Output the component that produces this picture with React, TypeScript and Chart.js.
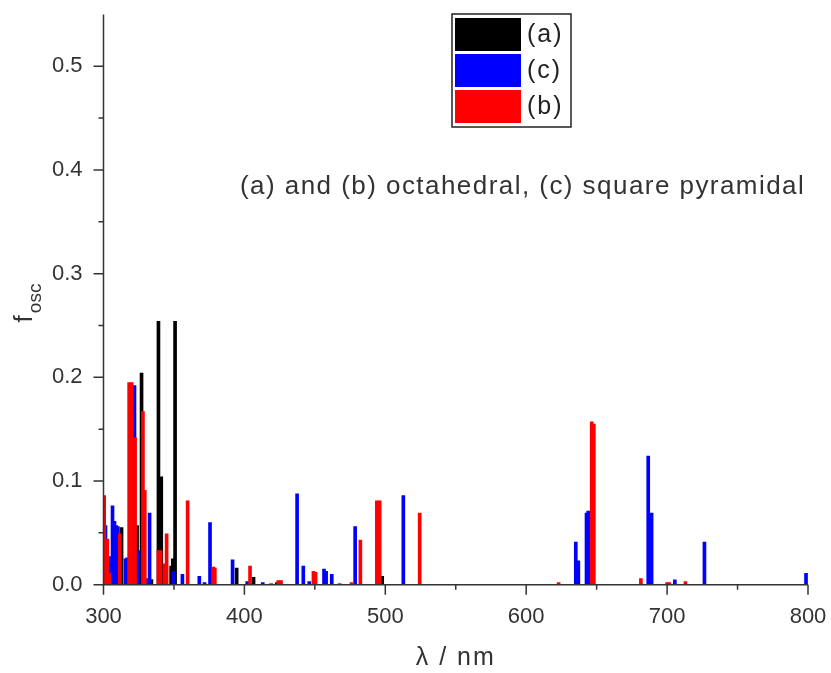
import React, { useEffect, useRef } from "react";
import { Chart, registerables } from "chart.js";
Chart.register(...registerables);

// (a) octahedral – black
const wavelengthA = [312.8, 323.8, 327, 334, 339, 341, 343.3, 348, 349.2, 350.8, 394.5, 406.5, 423, 497.8];
const foscA = [0.055, 0.057, 0.204, 0.005, 0.254, 0.104, 0.02, 0.018, 0.025, 0.254, 0.016, 0.007, 0.002, 0.008];

// (c) square pyramidal – blue
const wavelengthC = [301.4, 304.3, 306.4, 307.8, 309, 310.2, 315.6, 316.8, 322, 324.8, 330.9, 332.7, 349.5, 356, 368, 371.7, 375.6, 391.6, 402, 413, 437.4, 441.8, 446, 456.5, 458, 462, 478.6, 512.8, 635.2, 637, 642.8, 644, 686.6, 689, 705.5, 726.5, 798.6];
const foscC = [0.057, 0.027, 0.076, 0.061, 0.057, 0.056, 0.025, 0.026, 0.192, 0.033, 0.006, 0.069, 0.013, 0.01, 0.008, 0.002, 0.06, 0.024, 0.003, 0.002, 0.0877, 0.018, 0.003, 0.015, 0.013, 0.01, 0.056, 0.086, 0.041, 0.023, 0.069, 0.071, 0.124, 0.069, 0.0046, 0.041, 0.011];

// (b) octahedral – red
const wavelengthB = [300.5, 302.7, 304.3, 311.6, 318.2, 320, 322.4, 328, 329.3, 339, 340.5, 343.5, 344.8, 359.7, 378, 379, 404, 419, 424, 426, 449, 450.5, 467.6, 476, 482.3, 494, 496, 524.4, 623, 646.5, 648, 681.4, 700, 701.5, 713];
const foscB = [0.086, 0.044, 0.011, 0.049, 0.195, 0.195, 0.142, 0.167, 0.091, 0.033, 0.033, 0.02, 0.049, 0.081, 0.017, 0.016, 0.018, 0.001, 0.004, 0.004, 0.013, 0.012, 0.001, 0.002, 0.043, 0.081, 0.081, 0.069, 0.002, 0.157, 0.155, 0.006, 0.002, 0.002, 0.003];

const xTickLabels = [300, 400, 500, 600, 700, 800];
const yTickLabels = [0.0, 0.1, 0.2, 0.3, 0.4, 0.5];
const xMinorTicks = [350, 450, 550, 650, 750];
const yMinorTicks = [0.05, 0.15, 0.25, 0.35, 0.45];

const legendLabels = ["(a)", "(c)", "(b)"];
const legendColors = ["#000000", "#0000ff", "#ff0000"];
const noteText = "(a) and (b) octahedral, (c) square pyramidal";

const FONT = "'Liberation Sans', Arial, sans-serif";
const AXIS_COLOR = "#333333";

const toPoints = (xs: number[], ys: number[]) => xs.map((x, i) => ({ x, y: ys[i] }));

const zeroPad = (s: any) => {
  s.paddingTop = 0;
  s.paddingBottom = 0;
  s.paddingLeft = 0;
  s.paddingRight = 0;
};

const decorPlugin = {
  id: "decor",
  afterDraw(chart: any) {
    const ctx = chart.ctx as CanvasRenderingContext2D;
    const { left, right, top, bottom } = chart.chartArea;
    const xs = chart.scales.x;
    const ys = chart.scales.y;
    ctx.save();
    ctx.strokeStyle = AXIS_COLOR;
    ctx.lineWidth = 1.5;
    ctx.beginPath();
    ctx.moveTo(left, top);
    ctx.lineTo(left, bottom);
    ctx.lineTo(right, bottom);
    ctx.stroke();
    ctx.beginPath();
    xTickLabels.forEach((v) => {
      const px = xs.getPixelForValue(v);
      ctx.moveTo(px, bottom);
      ctx.lineTo(px, bottom + 10);
    });
    xMinorTicks.forEach((v) => {
      const px = xs.getPixelForValue(v);
      ctx.moveTo(px, bottom);
      ctx.lineTo(px, bottom + 5);
    });
    yTickLabels.forEach((v) => {
      const py = ys.getPixelForValue(v);
      ctx.moveTo(left, py);
      ctx.lineTo(left - 10, py);
    });
    yMinorTicks.forEach((v) => {
      const py = ys.getPixelForValue(v);
      ctx.moveTo(left, py);
      ctx.lineTo(left - 5, py);
    });
    ctx.stroke();

    // axis titles
    ctx.fillStyle = AXIS_COLOR;
    ctx.textBaseline = "middle";
    ctx.textAlign = "center";
    ctx.font = `25px ${FONT}`;
    (ctx as any).letterSpacing = "2px";
    ctx.fillText("λ / nm", (left + right) / 2, 658);
    (ctx as any).letterSpacing = "0px";

    ctx.save();
    ctx.translate(32, 303);
    ctx.rotate(-Math.PI / 2);
    ctx.textAlign = "left";
    ctx.textBaseline = "alphabetic";
    ctx.font = `26px ${FONT}`;
    const fW = ctx.measureText("f").width;
    ctx.font = `19px ${FONT}`;
    const oW = ctx.measureText("osc").width;
    const total = fW + oW + 2;
    ctx.font = `26px ${FONT}`;
    ctx.fillText("f", -total / 2, 0);
    ctx.font = `19px ${FONT}`;
    ctx.fillText("osc", -total / 2 + fW + 2, 9);
    ctx.restore();

    // annotation
    ctx.textAlign = "left";
    ctx.textBaseline = "middle";
    ctx.font = `26px ${FONT}`;
    (ctx as any).letterSpacing = "1.45px";
    ctx.fillText(noteText, 240, 187);

    // legend
    ctx.lineWidth = 1.5;
    ctx.strokeStyle = "#222";
    ctx.strokeRect(452, 14, 119, 113);
    const rows = [18, 54, 90];
    (ctx as any).letterSpacing = "2px";
    legendLabels.forEach((lab, i) => {
      ctx.fillStyle = legendColors[i];
      ctx.fillRect(455, rows[i], 66, 33);
      ctx.fillStyle = "#222";
      ctx.font = `25px ${FONT}`;
      ctx.textAlign = "left";
      ctx.textBaseline = "middle";
      ctx.fillText(lab, 527, rows[i] + 17);
    });
    (ctx as any).letterSpacing = "0px";
    ctx.restore();
  },
};

export default function App() {
  const canvasRef = useRef<HTMLCanvasElement | null>(null);
  useEffect(() => {
    if (!canvasRef.current) return;
    const ds = (label: string, xs: number[], ys: number[], color: string, order: number) => ({
      label,
      data: toPoints(xs, ys),
      backgroundColor: color,
      borderWidth: 0,
      barThickness: 3,
      grouped: false,
      order,
    });
    const chart = new Chart(canvasRef.current, {
      type: "bar",
      data: {
        datasets: [
          ds("(a)", wavelengthA, foscA, "#000000", 2),
          ds("(c)", wavelengthC, foscC, "#0000ff", 1),
          ds("(b)", wavelengthB, foscB, "#ff0000", 0),
        ] as any,
      },
      options: {
        responsive: false,
        animation: false,
        devicePixelRatio: 1,
        layout: { padding: { left: 0, right: 23, top: 14.4, bottom: 0 } },
        plugins: { legend: { display: false }, tooltip: { enabled: false } },
        scales: {
          x: {
            type: "linear",
            min: 300,
            max: 800,
            offset: false,
            grid: { display: false, drawTicks: false },
            border: { display: false },
            afterBuildTicks: (s: any) => {
              s.ticks = xTickLabels.map((v) => ({ value: v }));
            },
            afterFit: (s: any) => {
              s.height = 673 - 584.7;
              zeroPad(s);
            },
            ticks: {
              padding: 19,
              color: AXIS_COLOR,
              font: { family: FONT, size: 22 },
              maxRotation: 0,
              callback: (v: any) => String(v),
            },
          },
          y: {
            type: "linear",
            min: 0,
            max: 0.55,
            grid: { display: false, drawTicks: false },
            border: { display: false },
            afterBuildTicks: (s: any) => {
              s.ticks = yTickLabels.map((v) => ({ value: v }));
            },
            afterFit: (s: any) => {
              s.width = 103.5;
              zeroPad(s);
            },
            ticks: {
              padding: 21,
              color: AXIS_COLOR,
              font: { family: FONT, size: 22 },
              callback: (v: any) => Number(v).toFixed(1),
            },
          },
        },
      } as any,
      plugins: [decorPlugin],
    });
    return () => chart.destroy();
  }, []);
  return (
    <div style={{ position: "absolute", left: 0, top: 0, width: 831, height: 673, background: "#fff" }}>
      <canvas ref={canvasRef} width={831} height={673} style={{ display: "block" }} />
    </div>
  );
}
